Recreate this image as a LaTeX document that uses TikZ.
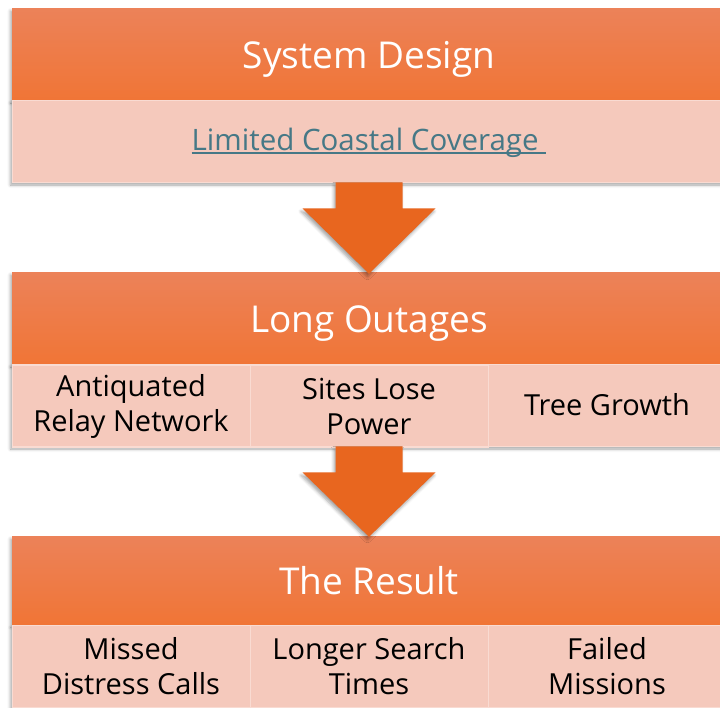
\documentclass[tikz,border=0pt]{standalone}
\usepackage{fontspec}
\setmainfont{Open Sans}
\usetikzlibrary{calc,shadows.blur}

\definecolor{hdrtop}{HTML}{EC8259}
\definecolor{hdrbot}{HTML}{F07536}
\definecolor{bandfill}{HTML}{F5C9BC}
\definecolor{bandline}{HTML}{F9DBD2}
\definecolor{arroworange}{HTML}{E8661F}
\definecolor{linkteal}{HTML}{467886}

% underlined hyperlink look
\newcommand{\linktext}[1]{\setbox0\hbox{#1}\rlap{\rule[-4pt]{\wd0}{1.6pt}}\box0}

\tikzset{
  softshadow/.style={blur shadow={shadow xshift=-1.5pt,shadow yshift=-3pt,shadow blur radius=3pt,shadow opacity=35}},
  header/.style={softshadow, top color=hdrtop, bottom color=hdrbot, minimum width=714pt, inner sep=0pt,
    text height=37pt, text depth=9pt, text=white, font=\fontsize{37}{44}\selectfont},
  subband/.style={softshadow, fill=bandfill, draw=bandline, line width=0.8pt, minimum width=714pt,
    minimum height=82pt, inner sep=0pt},
  cell/.style={draw=bandline, line width=0.8pt, minimum width=238pt, minimum height=82pt, inner sep=0pt,
    align=center, text=black, font=\fontsize{29}{35}\selectfont},
  blockarrow/.style={softshadow, fill=arroworange}
}

\begin{document}
\begin{tikzpicture}[x=1pt,y=-1pt]
\useasboundingbox (0,0) rectangle (720,707);

% first block
\node[header, minimum height=92pt] (hdr1) at (369,54) {System Design};
\node[subband] (sub1) at (369,141) {};
\node[cell, minimum width=714pt, text height=25pt, text depth=7pt, text=linkteal,
  font=\fontsize{29.5}{35}\selectfont] (link1) at (369,141) {\linktext{Limited Coastal Coverage\ }};

% second block
\node[header, minimum height=92pt] (hdr2) at (369,318) {Long Outages};
\node[subband] (sub2) at (369,405) {};
\node[cell] (relay) at (131,406) {Antiquated\\Relay Network};
\node[cell] (power) at (369,406) {Sites Lose\\Power};
\node[cell] (trees) at (607,405) {Tree Growth};

% third block
\node[header, minimum height=88pt] (hdr3) at (369,580) {The Result};
\node[subband] (sub3) at (369,666) {};
\node[cell] (missed) at (131,666) {Missed\\Distress Calls};
\node[cell] (search) at (369,666) {Longer Search\\Times};
\node[cell] (failed) at (607,666) {Failed\\Missions};

% block arrows
\path[blockarrow] ($(sub1.south)+(-33.5,0)$) -- ++(0,26) -- ++(-33,0) -- ($(hdr2.north)+(0,2)$)
  -- ($(sub1.south)+(66.5,26)$) -- ++(-33,0) -- ($(sub1.south)+(33.5,0)$) -- cycle;
\path[blockarrow] ($(sub2.south)+(-33.5,0)$) -- ++(0,26) -- ++(-33,0) -- ($(hdr3.north)+(0,1)$)
  -- ($(sub2.south)+(66.5,26)$) -- ++(-33,0) -- ($(sub2.south)+(33.5,0)$) -- cycle;
\end{tikzpicture}
\end{document}
